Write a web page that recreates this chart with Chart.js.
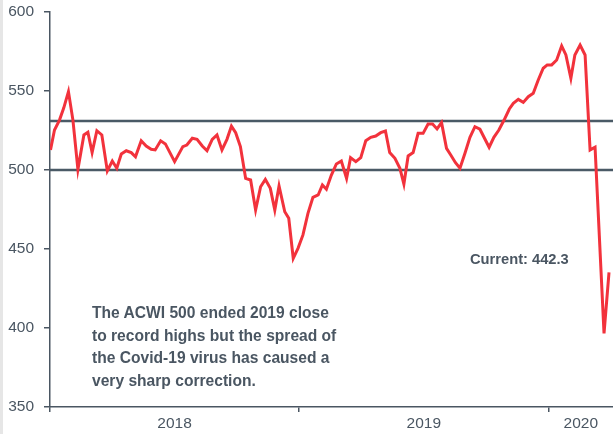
<!DOCTYPE html>
<html>
<head>
<meta charset="utf-8">
<script src="https://cdn.jsdelivr.net/npm/chart.js@4.4.1/dist/chart.umd.min.js"></script>
<style>
  body { margin: 0; background: #ffffff; }
  #wrap { position: relative; width: 613px; height: 434px; overflow: hidden; }
  #myChart { position: absolute; left: 0; top: 0; }
  #edge { position: absolute; left: 0; top: 0; width: 3px; height: 434px; background: #e6e6e6; }
  .note { position: absolute; font-family: "Liberation Sans", Arial, sans-serif; font-weight: bold; color: #4a5662; white-space: nowrap; }
  #current { left: 470px; top: 251px; font-size: 14.7px; }
  #comment { left: 92px; top: 302px; font-size: 15.6px; line-height: 22.5px; }
</style>
</head>
<body>
<div id="wrap">
  <canvas id="myChart" width="613" height="434"></canvas>
  <div id="edge"></div>
  <div class="note" id="current">Current: 442.3</div>
  <div class="note" id="comment">The ACWI 500 ended 2019 close<br>to record highs but the spread of<br>the Covid-19 virus has caused a<br>very sharp correction.</div>
</div>
<script>
// date (anno decimale) e valore dell'indice
var dates = [
  2018.002, 2018.018, 2018.038, 2018.055, 2018.074, 2018.092, 2018.112, 2018.136, 2018.152, 2018.169,
  2018.188, 2018.208, 2018.230, 2018.250, 2018.268, 2018.286, 2018.306, 2018.326, 2018.343, 2018.366,
  2018.386, 2018.406, 2018.422, 2018.444, 2018.463, 2018.500, 2018.533, 2018.549, 2018.571, 2018.590,
  2018.611, 2018.630, 2018.651, 2018.670, 2018.690, 2018.710, 2018.728, 2018.745, 2018.764, 2018.785,
  2018.805, 2018.825, 2018.845, 2018.864, 2018.884, 2018.902, 2018.919, 2018.942, 2018.958, 2018.976,
  2018.995, 2019.015, 2019.035, 2019.055, 2019.076, 2019.093, 2019.109, 2019.129, 2019.149, 2019.169,
  2019.190, 2019.206, 2019.227, 2019.247, 2019.267, 2019.287, 2019.307, 2019.327, 2019.346, 2019.363,
  2019.384, 2019.404, 2019.420, 2019.437, 2019.457, 2019.477, 2019.497, 2019.517, 2019.535, 2019.553,
  2019.571, 2019.591, 2019.608, 2019.627, 2019.645, 2019.665, 2019.685, 2019.705, 2019.725, 2019.762,
  2019.781, 2019.801, 2019.822, 2019.843, 2019.859, 2019.879, 2019.899, 2019.919, 2019.939, 2019.959,
  2019.979, 2019.995, 2020.013, 2020.033, 2020.053, 2020.070, 2020.090, 2020.106, 2020.127, 2020.147,
  2020.167, 2020.187, 2020.223, 2020.243
];
var acwi = [
  512.7, 525.3, 531.6, 539.2, 549.6, 531.6, 500.4, 522.2, 523.9, 511.0,
  524.9, 522.2, 499.4, 505.7, 501.1, 510.1, 512.2, 511.0, 508.4, 518.5,
  515.2, 513.1, 512.7, 518.5, 516.5, 505.3, 514.8, 515.8, 520.1, 519.4,
  515.2, 512.2, 519.4, 522.2, 512.7, 519.4, 527.8, 523.6, 514.8, 494.7,
  493.7, 474.7, 489.4, 494.1, 488.4, 474.7, 489.9, 473.6, 469.4, 444.1,
  450.4, 458.9, 472.6, 482.7, 484.2, 490.5, 487.8, 496.8, 503.8, 505.7,
  494.7, 507.8, 505.3, 507.8, 518.5, 520.7, 521.5, 523.6, 524.7, 511.0,
  507.4, 501.1, 491.1, 508.9, 511.0, 523.2, 523.2, 529.1, 529.1, 526.0,
  530.0, 513.7, 509.5, 504.6, 501.1, 510.6, 520.7, 527.4, 525.8, 514.4,
  520.7, 525.3, 531.6, 538.6, 542.2, 544.7, 542.8, 546.4, 548.5, 557.0,
  564.4, 566.5, 566.5, 569.6, 578.5, 572.8, 558.0, 572.8, 579.1, 572.8,
  512.7, 514.4, 396.6, 435.2
];

// livelli orizzontali di riferimento
var upperLevel = 531;
var lowerLevel = 500;

// etichette degli anni (al centro di ogni anno) e tacche ai cambi d'anno
var yearLabels = ['2018', '2019', '2020'];
var yearLabelPos = [2018.5, 2019.5, 2020.13];
var yearTicks = [2018, 2019, 2020];
var xMin = 2018, xMax = 2020.259;

var axisColor = '#4a5662';
var textColor = '#4a5662';

var points = [];
for (var i = 0; i < dates.length; i++) {
  points.push({ x: dates[i], y: acwi[i] });
}

var ctx = document.getElementById('myChart').getContext('2d');
var myLineChart = new Chart(ctx, {
  type: 'line',
  data: {
    datasets: [{
      label: 'ACWI 500',
      data: points,
      borderColor: '#f2323c',
      borderWidth: 3,
      pointRadius: 0,
      tension: 0
    }, {
      label: 'upper',
      data: [{ x: xMin, y: upperLevel }, { x: xMax, y: upperLevel }],
      borderColor: '#4a5a66',
      borderWidth: 2.6,
      pointRadius: 0
    }, {
      label: 'lower',
      data: [{ x: xMin, y: lowerLevel }, { x: xMax, y: lowerLevel }],
      borderColor: '#4a5a66',
      borderWidth: 2.6,
      pointRadius: 0
    }]
  },
  options: {
    responsive: false,
    devicePixelRatio: 1,
    animation: false,
    layout: { padding: { top: 12, right: 0, left: 0, bottom: 0 } },
    plugins: { legend: { display: false }, tooltip: { enabled: false } },
    scales: {
      x: {
        type: 'linear',
        min: xMin,
        max: xMax,
        afterBuildTicks: function(axis) {
          var t = [];
          for (var k = 0; k < yearTicks.length; k++) {
            t.push({ value: yearTicks[k] });
            t.push({ value: yearLabelPos[k] });
          }
          t.sort(function(a, b) { return a.value - b.value; });
          axis.ticks = t;
        },
        afterFit: function(axis) {
          axis.height = 27;
          axis.paddingLeft = 0;
          axis.paddingRight = 0;
        },
        border: { color: axisColor, width: 1.5 },
        grid: {
          drawOnChartArea: false,
          drawTicks: true,
          tickLength: 5,
          lineWidth: 1.5,
          color: function(c) {
            return yearTicks.indexOf(c.tick && c.tick.value) >= 0 ? axisColor : 'rgba(0,0,0,0)';
          }
        },
        ticks: {
          autoSkip: false,
          maxRotation: 0,
          padding: 2,
          color: textColor,
          font: { family: '"Liberation Sans", Arial, sans-serif', size: 15.5 },
          callback: function(value) {
            var idx = yearLabelPos.indexOf(value);
            return idx >= 0 ? yearLabels[idx] : '';
          }
        }
      },
      y: {
        min: 350,
        max: 600,
        afterFit: function(axis) {
          axis.width = 50;
          axis.paddingTop = 0;
          axis.paddingBottom = 0;
        },
        border: { color: axisColor, width: 1.5 },
        grid: {
          drawOnChartArea: false,
          drawTicks: true,
          tickLength: 6,
          lineWidth: 1.5,
          color: axisColor
        },
        ticks: {
          stepSize: 50,
          padding: 10,
          color: textColor,
          font: { family: '"Liberation Sans", Arial, sans-serif', size: 15.5 }
        }
      }
    }
  }
});
</script>
</body>
</html>
